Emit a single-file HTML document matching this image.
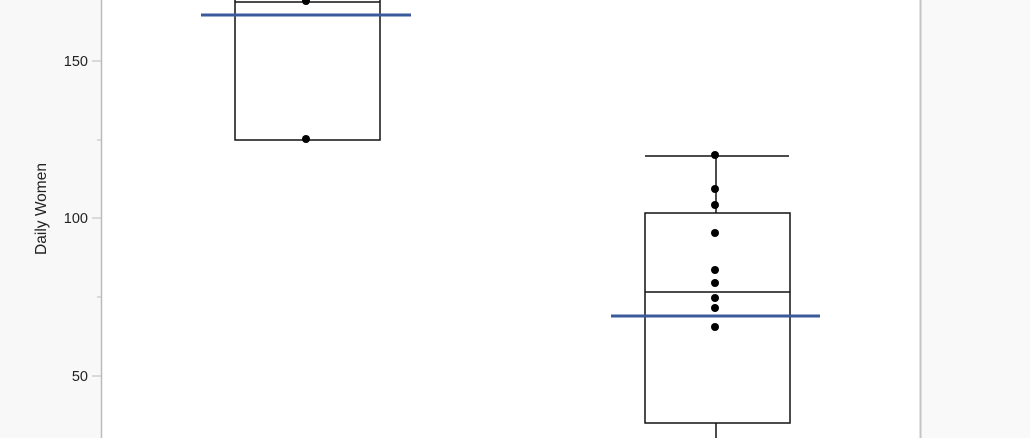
<!DOCTYPE html>
<html><head><style>body{margin:0;background:#fff}svg{display:block}</style></head><body>
<svg width="1030" height="438" xmlns="http://www.w3.org/2000/svg" font-family="Liberation Sans, sans-serif">
<rect x="0" y="0" width="101" height="438" fill="#f8f8f8"/>
<rect x="921" y="0" width="109" height="438" fill="#f9f9f9"/>
<line x1="101.5" y1="0" x2="101.5" y2="438" stroke="#bbb" stroke-width="1.5"/>
<line x1="920.5" y1="0" x2="920.5" y2="438" stroke="#c4c4c4" stroke-width="2"/>
<g stroke="#bbb" stroke-width="1">
<line x1="92" y1="61" x2="101" y2="61"/><line x1="97" y1="140" x2="101" y2="140"/>
<line x1="92" y1="218" x2="101" y2="218"/><line x1="97" y1="297" x2="101" y2="297"/>
<line x1="92" y1="376" x2="101" y2="376"/></g>
<g font-size="14.5" fill="#222" text-anchor="end">
<text x="88" y="66">150</text><text x="88" y="223">100</text><text x="88" y="381">50</text></g>
<text transform="translate(46,209) rotate(-90)" font-size="15.5" fill="#222" text-anchor="middle">Daily Women</text>
<g fill="none" stroke="#111" stroke-width="1.5">
<rect x="235" y="-10" width="145" height="150"/>
<line x1="235" y1="2" x2="380" y2="2"/>
<rect x="645" y="213" width="145" height="210"/>
<line x1="645" y1="292" x2="790" y2="292"/>
<line x1="716" y1="156" x2="716" y2="213"/>
<line x1="645" y1="156" x2="789" y2="156"/>
<line x1="716" y1="423" x2="716" y2="438"/>
</g>
<g fill="#000">
<circle cx="306" cy="1" r="4"/><circle cx="306" cy="139" r="4"/>
<circle cx="715" cy="155" r="4"/><circle cx="715" cy="189" r="4"/><circle cx="715" cy="205" r="4"/>
<circle cx="715" cy="233" r="4"/><circle cx="715" cy="270" r="4"/><circle cx="715" cy="283" r="4"/>
<circle cx="715" cy="298" r="4"/><circle cx="715" cy="308" r="4"/><circle cx="715" cy="327" r="4"/>
</g>
<line x1="201" y1="15" x2="411" y2="15" stroke="#3a5a9c" stroke-width="3"/>
<line x1="611" y1="316" x2="820" y2="316" stroke="#3a5a9c" stroke-width="3"/>
</svg>
</body></html>
